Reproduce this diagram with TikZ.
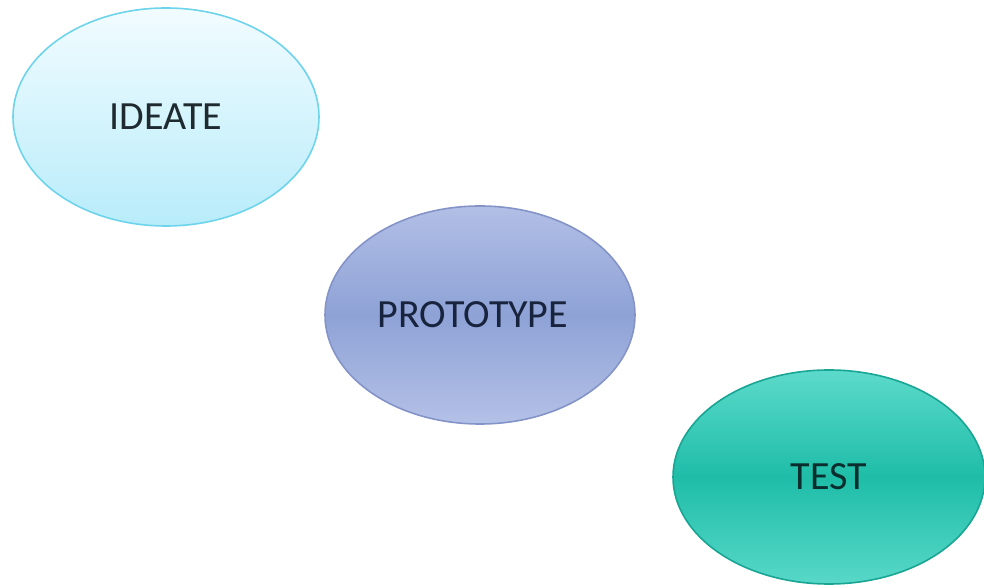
\documentclass[tikz,border=0pt]{standalone}
\usepackage{fontspec}
\setmainfont{Carlito}
\usetikzlibrary{shapes.geometric}
\definecolor{idTop}{HTML}{F2FCFF}
\definecolor{idBot}{HTML}{B8ECFA}
\definecolor{idLine}{HTML}{6ED4EC}
\definecolor{prTop}{HTML}{B2BFE6}
\definecolor{prMid}{HTML}{8EA2D6}
\definecolor{prBot}{HTML}{B4C1E7}
\definecolor{prLine}{HTML}{8494C8}
\definecolor{teTop}{HTML}{5CDACB}
\definecolor{teMid}{HTML}{1EBDA8}
\definecolor{teBot}{HTML}{58D8C8}
\definecolor{teLine}{HTML}{19A594}
\definecolor{idText}{HTML}{1E2A30}
\definecolor{prText}{HTML}{18243E}
\definecolor{teText}{HTML}{0A2E2E}
\tikzset{
  phase/.style={ellipse, inner sep=0pt, line width=1.6pt,
    font=\fontsize{40}{44}\selectfont},
}
\begin{document}
\begin{tikzpicture}[x=1pt,y=1pt]
\useasboundingbox[fill=white] (0,0) rectangle (984,588);
\node[phase, draw=idLine, top color=idTop, bottom color=idBot,
  minimum width=306pt, minimum height=218pt, text=idText]
  (ideate) at (166,471) {IDEATE};
\node[phase, draw=prLine, top color=prTop, bottom color=prBot, middle color=prMid,
  minimum width=310pt, minimum height=218pt, text=prText]
  (proto) at (480,273) {\hspace*{-14pt}PROTOTYPE};
\node[phase, draw=teLine, top color=teTop, bottom color=teBot, middle color=teMid,
  minimum width=312pt, minimum height=214pt, text=teText]
  (test) at (829,111) {TEST};
\end{tikzpicture}
\end{document}
